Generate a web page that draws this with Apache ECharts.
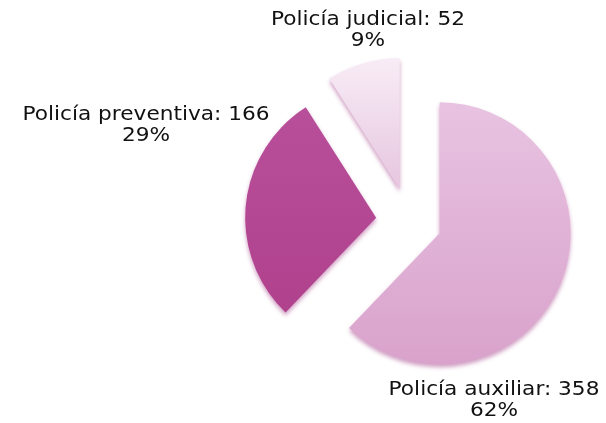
<!DOCTYPE html>
<html>
<head>
<meta charset="utf-8">
<script src="https://cdn.jsdelivr.net/npm/echarts@6/dist/echarts.min.js"></script>
<style>html,body{margin:0;padding:0;background:#fff}#c{width:606px;height:423px}</style>
</head>
<body>
<div id="c"></div>
<script>
const categories = ['Policía auxiliar', 'Policía preventiva', 'Policía judicial'];
const values = [358, 166, 52];
const colorsTop = ['#e8c3e1', '#b84f9a', '#f8ecf6'];
const colorsBottom = ['#d9a2cc', '#b0418d', '#e6c6df'];
const labelPos = [[494, 401], [146, 126], [368, 31]];

const total = values.reduce((a, b) => a + b, 0);
const chart = echarts.init(document.getElementById('c'), null, {renderer: 'canvas'});
const data = categories.map((c, i) => ({
  name: c,
  value: values[i],
  selected: true,
  itemStyle: {
    color: new echarts.graphic.LinearGradient(0, 0, 0, 1, [
      {offset: 0, color: colorsTop[i]},
      {offset: 1, color: colorsBottom[i]}
    ])
  }
}));
const texts = categories.map((c, i) => ({
  type: 'text',
  x: labelPos[i][0],
  y: labelPos[i][1],
  scaleX: 1.14,
  style: {
    text: c + ': ' + values[i] + '\n' + Math.round(values[i] / total * 100) + '%',
    fontFamily: 'DejaVu Sans',
    fontSize: 19,
    lineHeight: 21,
    fill: '#111',
    align: 'center',
    verticalAlign: 'middle'
  }
}));
chart.setOption({
  animation: false,
  graphic: texts,
  series: [{
    type: 'pie',
    center: [409, 221],
    radius: 131,
    startAngle: 90,
    clockwise: true,
    selectedMode: 'multiple',
    selectedOffset: 33,
    data: data,
    itemStyle: {
      shadowColor: 'rgba(150,40,120,0.45)',
      shadowBlur: 4,
      shadowOffsetY: 3
    },
    emphasis: {disabled: true},
    label: {show: false},
    labelLine: {show: false}
  }]
});
</script>
</body>
</html>
